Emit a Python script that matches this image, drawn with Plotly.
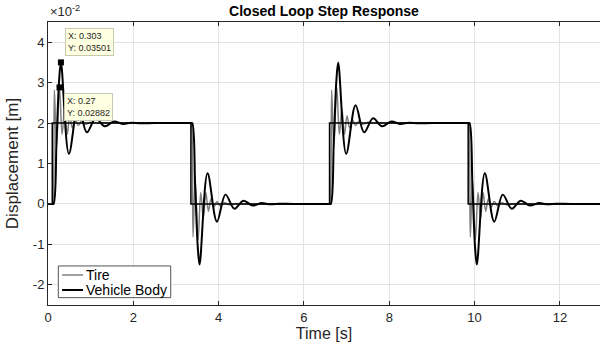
import plotly.graph_objects as go

# Square-wave road input: switching instants [s] and target levels [m]
step_times = [0.1, 3.35, 6.6, 9.85]
step_levels = [0.02, 0.0, 0.02, 0.0]
t_end = 13.0

# Vehicle body response to a 2 cm step: time after step [s], displacement [cm]
body_s = [0.0, 0.03, 0.10, 0.16, 0.203, 0.39, 0.61, 0.81, 1.02, 1.23, 1.45, 1.65, 1.86, 2.07, 2.4]
body_v = [0.0, 0.0, 1.55, 3.05, 3.501, 1.24, 2.44, 1.77, 2.12, 1.92, 2.04, 1.98, 2.01, 1.995, 2.0]

# Tire response to the same step
tire_s = [0.0, 0.02, 0.05, 0.10, 0.17, 0.23, 0.29, 0.35, 0.41, 0.47, 0.54, 0.61,
          0.69, 0.78, 0.90, 1.05, 1.3]
tire_v = [0.0, 0.1, 2.82, 1.40, 2.882, 1.72, 2.35, 1.72, 2.18, 1.88, 2.08, 1.94,
          2.05, 1.97, 2.02, 2.0, 2.0]

# Data tips
tip_x = [0.303, 0.27]
tip_y = [0.03501, 0.02882]

x_ticks = [0, 2, 4, 6, 8, 10, 12]
y_ticks = [-0.02, -0.01, 0.0, 0.01, 0.02, 0.03, 0.04]
y_tick_text = ["-2", "-1", "0", "1", "2", "3", "4"]

series_names = ["Tire", "Vehicle Body"]
series_colors = ["#808080", "#000000"]
series_widths = [1.5, 2]


def build(s_pts, v_pts):
    """Chain the single-step response over every switching instant."""
    t_all, y_all = [0.0], [0.0]
    prev = 0.0
    for k, (ts, lvl) in enumerate(zip(step_times, step_levels)):
        nxt = step_times[k + 1] if k + 1 < len(step_times) else t_end
        for s, v in zip(s_pts, v_pts):
            if ts + s < nxt:
                t_all.append(ts + s)
                y_all.append(prev + (lvl - prev) * v / 2.0)
        t_all.append(nxt)
        y_all.append(lvl)
        prev = lvl
    return t_all, y_all


tire_t, tire_y = build(tire_s, tire_v)
body_t, body_y = build(body_s, body_v)

in_t = [0.0] + step_times + [t_end]
in_y = [0.0] + step_levels + [step_levels[-1]]

FONT = "Liberation Sans, Arial, Helvetica, sans-serif"
AX = "#262626"

fig = go.Figure()
for (tt, yy), nm, col, w in zip([(tire_t, tire_y), (body_t, body_y)],
                                series_names, series_colors, series_widths):
    fig.add_trace(go.Scatter(x=tt, y=yy, mode="lines", name=nm, showlegend=False,
                             line=dict(color=col, width=w, shape="spline", smoothing=1.0)))
fig.add_trace(go.Scatter(x=in_t, y=in_y, mode="lines", showlegend=False,
                         line=dict(color="#000000", width=1.5, shape="hv")))
fig.add_trace(go.Scatter(x=tip_x, y=tip_y, mode="markers", showlegend=False,
                         marker=dict(symbol="square", size=6, color="#000000")))

# Data tip boxes
tip_anchor = [("bottom", 6), ("top", -6)]
for (xv, yv), (ya, ysh) in zip(zip(tip_x, tip_y), tip_anchor):
    fig.add_annotation(x=xv, y=yv, xref="x", yref="y", showarrow=False,
                       text=f"X: {xv:g}<br>Y: {yv:.5f}",
                       xanchor="left", yanchor=ya, xshift=4, yshift=ysh,
                       align="left", bgcolor="#ffffe1", bordercolor="#c9c9b0",
                       borderwidth=1, borderpad=2,
                       font=dict(family=FONT, size=9, color="#262626"))

# Axis exponent
fig.add_annotation(x=0, y=1, xref="paper", yref="paper", showarrow=False,
                   xanchor="left", yanchor="bottom", yshift=1,
                   text="\u00d710<sup>-2</sup>",
                   font=dict(family=FONT, size=13, color=AX))

# Legend box (paper coordinates of the plot area)
fig.add_shape(type="rect", xref="paper", yref="paper",
              x0=0.0187, x1=0.2223, y0=0.026, y1=0.138,
              line=dict(color="#555555", width=1), fillcolor="white", layer="above")
for nm, col, w, ypos in zip(series_names, series_colors, series_widths, [0.106, 0.053]):
    fig.add_shape(type="line", xref="paper", yref="paper",
                  x0=0.0255, x1=0.0635, y0=ypos, y1=ypos,
                  line=dict(color=col, width=w), layer="above")
    fig.add_annotation(x=0.065, y=ypos, xref="paper", yref="paper", showarrow=False,
                       xanchor="left", yanchor="middle", text=nm,
                       font=dict(family=FONT, size=14, color="#000000"))

fig.update_layout(
    width=600, height=352,
    margin=dict(l=48, r=0, t=22, b=47),
    paper_bgcolor="white", plot_bgcolor="white",
    font=dict(family=FONT, size=13, color=AX),
    title=dict(text="<b>Closed Loop Step Response</b>", x=0.5, xref="paper",
               y=1 - 11 / 352, yref="container", yanchor="middle",
               font=dict(family=FONT, size=14, color="#000000")),
    showlegend=False,
)
fig.update_xaxes(range=[0, 12.94], tickvals=x_ticks, ticks="inside", ticklen=4,
                 tickcolor=AX, showline=True, linecolor=AX, linewidth=1,
                 mirror="ticks", showgrid=True, gridcolor="#e3e3e3", zeroline=False,
                 title=dict(text="Time [s]", standoff=2, font=dict(size=16)),
                 tickfont=dict(size=13))
fig.update_yaxes(range=[-0.025, 0.045], tickvals=y_ticks, ticktext=y_tick_text,
                 ticks="inside", ticklen=4, tickcolor=AX, showline=True,
                 linecolor=AX, linewidth=1, showgrid=True, gridcolor="#e3e3e3",
                 zeroline=False,
                 title=dict(text="Displacement [m]", standoff=9, font=dict(size=17)),
                 tickfont=dict(size=13))

fig.write_html("out.html")
